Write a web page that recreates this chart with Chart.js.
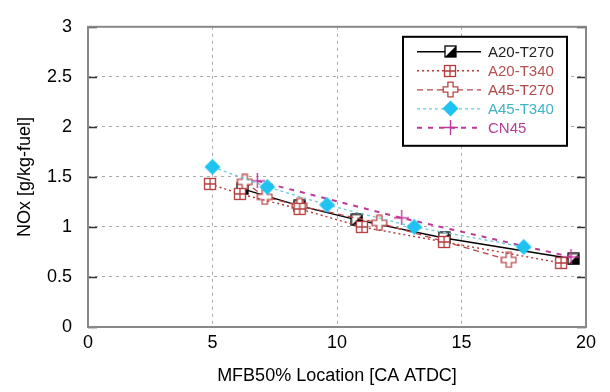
<!DOCTYPE html>
<html>
<head>
<meta charset="utf-8">
<script src="https://cdn.jsdelivr.net/npm/chart.js@4.4.0/dist/chart.umd.min.js"></script>
<style>
  html, body { margin: 0; padding: 0; background: #fff; }
  #wrap { width: 610px; height: 392px; }
</style>
</head>
<body>
<div id="wrap"><canvas id="noxChart" width="610" height="392"></canvas></div>
<script>
// MFB50% location [CA ATDC] and NOx [g/kg-fuel]
const a20t270X = [6.2, 8.5, 10.8, 14.3, 19.5];
const a20t270Y = [1.38, 1.21, 1.07, 0.89, 0.68];

const a20t340X = [4.9, 6.1, 8.5, 11.0, 14.3, 19.0];
const a20t340Y = [1.43, 1.33, 1.18, 1.00, 0.85, 0.64];

const a45t270X = [6.3, 7.1, 8.5, 11.7, 16.9];
const a45t270Y = [1.45, 1.30, 1.21, 1.04, 0.67];

const a45t340X = [5.0, 7.2, 9.6, 13.1, 17.5];
const a45t340Y = [1.60, 1.40, 1.22, 1.00, 0.80];

const cn45X = [6.8, 12.6, 19.4];
const cn45Y = [1.46, 1.09, 0.70];

const xTicks = [0, 5, 10, 15, 20];
const yTicks = [0, 0.5, 1, 1.5, 2, 2.5, 3];

const FONT = "'Liberation Sans', Arial, sans-serif";

function pts(xs, ys) {
  return xs.map((x, i) => ({ x: x, y: ys[i] }));
}

// small canvases used as point markers
function marker(size, draw) {
  const c = document.createElement('canvas');
  c.width = size;
  c.height = size;
  draw(c.getContext('2d'), size);
  return c;
}

const halfSquare = marker(13, (g) => {
  g.fillStyle = '#fff';
  g.fillRect(1, 1, 11, 11);
  g.fillStyle = '#000';
  g.beginPath();
  g.moveTo(12, 1); g.lineTo(12, 12); g.lineTo(1, 12);
  g.closePath();
  g.fill();
  g.strokeStyle = '#000';
  g.lineWidth = 1.3;
  g.strokeRect(1, 1, 11, 11);
});

const gridSquare = marker(14, (g) => {
  g.fillStyle = '#fff';
  g.fillRect(1.5, 1.5, 11, 11);
  g.strokeStyle = '#b33b3b';
  g.lineWidth = 1.3;
  g.strokeRect(1.5, 1.5, 11, 11);
  g.beginPath();
  g.moveTo(7, 1.5); g.lineTo(7, 12.5);
  g.moveTo(1.5, 7); g.lineTo(12.5, 7);
  g.stroke();
});

const openCross = marker(17, (g) => {
  const c = 8.5, a = 2.6, l = 7.3;
  g.beginPath();
  g.moveTo(c - a, c - l); g.lineTo(c + a, c - l); g.lineTo(c + a, c - a);
  g.lineTo(c + l, c - a); g.lineTo(c + l, c + a); g.lineTo(c + a, c + a);
  g.lineTo(c + a, c + l); g.lineTo(c - a, c + l); g.lineTo(c - a, c + a);
  g.lineTo(c - l, c + a); g.lineTo(c - l, c - a); g.lineTo(c - a, c - a);
  g.closePath();
  g.fillStyle = '#fff';
  g.fill();
  g.strokeStyle = '#b84545';
  g.lineWidth = 1.3;
  g.stroke();
});

const diamond = marker(17, (g) => {
  g.beginPath();
  g.moveTo(8.5, 0.5); g.lineTo(16.5, 8.5); g.lineTo(8.5, 16.5); g.lineTo(0.5, 8.5);
  g.closePath();
  g.fillStyle = '#1ec3f2';
  g.fill();
});

const plusSign = marker(15, (g) => {
  g.strokeStyle = '#c0399a';
  g.lineWidth = 1.4;
  g.beginPath();
  g.moveTo(7.5, 0); g.lineTo(7.5, 15);
  g.moveTo(0, 7.5); g.lineTo(15, 7.5);
  g.stroke();
});

function series(label, xs, ys, color, dash, width, pointImg, textColor, order) {
  return {
    label: label,
    data: pts(xs, ys),
    showLine: true,
    borderColor: color,
    backgroundColor: color,
    borderWidth: width,
    borderDash: dash,
    pointStyle: pointImg,
    pointRadius: 7,
    pointHoverRadius: 7,
    tension: 0,
    textColor: textColor,
    order: order
  };
}

const datasets = [
  series('A20-T270', a20t270X, a20t270Y, '#000000', [], 1.4, halfSquare, '#222', 4),
  series('A20-T340', a20t340X, a20t340Y, '#b33b3b', [2, 3], 1.4, gridSquare, '#b35050', 1),
  series('A45-T270', a45t270X, a45t270Y, '#b84545', [6, 4], 1.3, openCross, '#b04848', 2),
  series('A45-T340', a45t340X, a45t340Y, '#6cc8dc', [3, 3], 1.3, diamond, '#3fb4c4', 0),
  series('CN45', cn45X, cn45Y, '#c0399a', [5, 6], 2, plusSign, '#b0409a', 3)
];

// frame, inward tick marks and the boxed legend
const decorations = {
  id: 'decorations',
  afterDatasetsDraw(chart) {
    const { ctx, chartArea, scales } = chart;
    ctx.save();
    ctx.strokeStyle = '#333';
    ctx.lineWidth = 1.5;
    ctx.beginPath();
    yTicks.forEach((t) => {
      const py = Math.round(scales.y.getPixelForValue(t)) + 0.5;
      ctx.moveTo(chartArea.left, py); ctx.lineTo(chartArea.left + 9, py);
      ctx.moveTo(chartArea.right - 9, py); ctx.lineTo(chartArea.right, py);
    });
    ctx.stroke();
    ctx.strokeStyle = '#888';
    ctx.lineWidth = 2;
    ctx.strokeRect(chartArea.left, chartArea.top, chartArea.right - chartArea.left, chartArea.bottom - chartArea.top);

    // legend
    const x0 = chartArea.right - 183, y0 = chartArea.top + 10, w = 164, h = 109;
    ctx.fillStyle = '#fff';
    ctx.fillRect(x0, y0, w, h);
    ctx.strokeStyle = '#000';
    ctx.lineWidth = 2;
    ctx.strokeRect(x0, y0, w, h);
    ctx.font = '15px ' + FONT;
    ctx.textBaseline = 'middle';
    ctx.textAlign = 'left';
    chart.data.datasets.forEach((ds, i) => {
      const ry = y0 + 15 + i * 19;
      ctx.strokeStyle = ds.borderColor;
      ctx.lineWidth = ds.borderWidth;
      ctx.setLineDash(ds.borderDash);
      ctx.beginPath();
      ctx.moveTo(x0 + 14, ry); ctx.lineTo(x0 + 78, ry);
      ctx.stroke();
      ctx.setLineDash([]);
      const img = ds.pointStyle;
      ctx.drawImage(img, Math.round(x0 + 47 - img.width / 2), Math.round(ry - img.height / 2));
      ctx.fillStyle = ds.textColor;
      ctx.fillText(ds.label, x0 + 85, ry + 1);
    });
    ctx.restore();
  }
};

new Chart(document.getElementById('noxChart').getContext('2d'), {
  type: 'scatter',
  data: { datasets: datasets },
  options: {
    responsive: false,
    animation: false,
    events: [],
    layout: { padding: { left: 0, top: 16, right: 24, bottom: 0 } },
    plugins: { legend: { display: false }, tooltip: { enabled: false } },
    scales: {
      x: {
        type: 'linear',
        min: 0,
        max: 20,
        afterBuildTicks: (s) => { s.ticks = xTicks.map((v) => ({ value: v })); },
        afterFit: (s) => { s.height = 65; },
        grid: { color: '#aaa', lineWidth: 1, drawTicks: false },
        border: { display: false, dash: [3, 4] },
        ticks: { color: '#000', font: { family: FONT, size: 18 }, padding: 5, callback: (v) => String(v) },
        title: {
          display: true,
          text: 'MFB50% Location [CA ATDC]',
          color: '#000',
          font: { family: FONT, size: 18 },
          padding: { top: 0, bottom: 5 }
        }
      },
      y: {
        type: 'linear',
        min: 0,
        max: 3,
        afterBuildTicks: (s) => { s.ticks = yTicks.map((v) => ({ value: v })); },
        afterFit: (s) => { s.width = 88; },
        grid: { color: '#aaa', lineWidth: 1, drawTicks: false },
        border: { display: false, dash: [3, 4] },
        ticks: { color: '#000', font: { family: FONT, size: 18 }, padding: 16, callback: (v) => String(v) },
        title: {
          display: true,
          text: 'NOx [g/kg-fuel]',
          color: '#000',
          font: { family: FONT, size: 18 },
          padding: { top: 14, bottom: 0 }
        }
      }
    }
  },
  plugins: [decorations]
});
</script>
</body>
</html>
